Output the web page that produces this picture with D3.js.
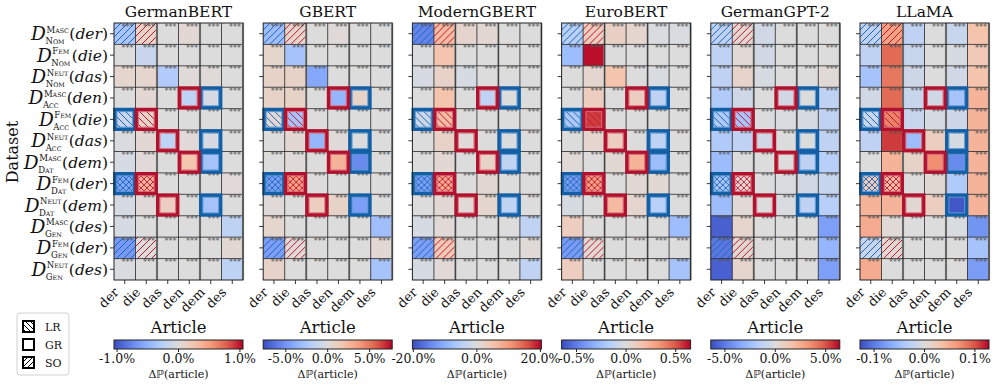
<!DOCTYPE html>
<html><head><meta charset="utf-8">
<script src="https://cdn.jsdelivr.net/npm/d3@7"></script>
<style>
body{margin:0;background:#fff}
svg{display:block}
text{font-family:"DejaVu Serif","Liberation Serif",serif;fill:#111}
</style>
</head><body>
<svg id="chart" width="996" height="386"></svg>
<script>
// ---------------- data ----------------
const models = ["GermanBERT","GBERT","ModernGBERT","EuroBERT","GermanGPT-2","LLaMA"];
const articles = ["der","die","das","den","dem","des"];
const rowGender = ["Masc","Fem","Neut","Masc","Fem","Neut","Masc","Fem","Neut","Masc","Fem","Neut"];
const rowCase = ["Nom","Nom","Nom","Acc","Acc","Acc","Dat","Dat","Dat","Gen","Gen","Gen"];
const rowArticle = ["der","die","das","den","die","das","dem","der","dem","des","der","des"];
const vmax = [1.05, 7.7, 20.3, 0.65, 6.4, 0.128];
const cbTicks = [[-1,0,1],[-5,0,5],[-20,0,20],[-0.5,0,0.5],[-5,0,5],[-0.1,0,0.1]];

// ΔP(article) in percent, rows = datasets, cols = articles
const valsGermanBERT = [
 [-0.35,0.10,0.00,0.05,0.00,0.00],
 [0.00,-0.15,0.00,0.00,0.00,0.00],
 [0.08,0.08,-0.30,0.02,0.02,0.00],
 [0.00,0.05,0.00,-0.22,-0.05,0.00],
 [-0.15,0.10,0.00,0.00,0.00,0.00],
 [-0.03,0.05,-0.22,0.03,-0.05,0.00],
 [-0.05,0.03,0.00,0.25,-0.38,0.00],
 [-0.60,0.38,0.00,0.00,0.00,0.03],
 [-0.05,0.03,0.15,0.00,-0.38,0.00],
 [-0.05,0.00,0.00,0.00,0.00,-0.22],
 [-0.65,0.00,0.00,0.00,0.00,0.05],
 [-0.03,0.00,0.00,0.00,0.00,-0.22]];
const valsGBERT = [
 [-3.0,0.6,0,0.2,0,0],
 [0.6,-2.7,0,0,0,0],
 [0.8,0.8,-4.2,0,0,0],
 [0.8,0.8,0,-3.5,0.8,0],
 [0.4,-2.7,0,0,0,0],
 [0,0.4,-3.5,0.2,0,0],
 [0,0.2,0,2.7,-5.4,0],
 [-4.6,3.5,0,0,0,0],
 [0.2,0,1.2,0.8,-4.6,0],
 [0.6,0,0,0,0,-3.0],
 [-4.6,0.2,0,0,0,0.4],
 [0.8,0,0,0,0,-2.7]];
const valsModernGBERT = [
 [-15,6,1.6,1,0,0],
 [-0.6,5,0,0,0,0],
 [-1,2.4,-1,0,0,0],
 [0,5,0,-4,0,0],
 [-2,6,0,0,0,0],
 [0,2.4,0.4,0,-0.6,0],
 [0,1,0,2.4,-4,0],
 [-12,8,0,1,0,0],
 [0,1,0.6,1.4,-4,0],
 [-1,0.6,0,0,0,-4],
 [-12,4,0,0,0,0.4],
 [-1,0.6,0,0,0,-4]];
const valsEuroBERT = [
 [-0.16,0.10,0.08,0.05,-0.02,-0.02],
 [-0.26,0.63,0,0,0,0],
 [0,0.05,0.16,0,-0.02,0],
 [0,0.10,0,0.10,-0.13,0],
 [-0.20,0.55,0,0,0,0],
 [0,0.05,0.10,0,-0.13,0],
 [0.02,0,0.03,0.23,-0.26,0],
 [-0.40,0.30,0,0.03,0.03,0],
 [-0.03,0,0.20,0.05,-0.16,0],
 [0.10,0,0,0,0,-0.26],
 [-0.40,0.03,0,0,0,0],
 [0.10,0,0,0,0,-0.23]];
const valsGermanGPT2 = [
 [-1.3,0.3,-0.5,0,0,0],
 [-1.3,0.2,-0.5,0,0,0],
 [-1.3,0.6,-0.3,0,0,0.2],
 [-1.9,-0.6,0,-0.5,0,-1.3],
 [-1.9,-2.2,0,-0.2,-0.3,-1.3],
 [-1.9,-1.3,-0.5,0,0,-1.3],
 [-2.6,0,0,0,-1.3,-1.6],
 [-2.2,0.3,0,-0.2,-0.5,-1.0],
 [-2.6,0.2,0,-0.2,-1.3,-1.6],
 [-5.8,0.5,0,0,0,-3.8],
 [-5.1,0.3,0,0,0,-2.9],
 [-5.8,0.5,0,0,0,-3.8]];
const valsLLaMA = [
 [-0.026,0.058,-0.026,0,-0.019,0.032],
 [-0.026,0.090,-0.019,0,-0.006,0.026],
 [-0.045,0.083,-0.013,0,-0.010,0.032],
 [-0.010,0.090,-0.019,-0.010,-0.045,0.045],
 [-0.019,0.077,-0.019,-0.006,-0.013,0.045],
 [-0.026,0.109,-0.051,0.019,-0.006,0.045],
 [0,0.045,0.013,0.070,-0.090,0.045],
 [0.026,0.038,0,0.006,-0.038,0.045],
 [0.045,0.045,0.006,0.019,-0.122,0.045],
 [0.051,0.004,0,0,-0.004,-0.083],
 [-0.019,0.006,0,0,0,-0.045],
 [0.051,0,0,0,0,-0.077]];
const panelValues = [valsGermanBERT, valsGBERT, valsModernGBERT, valsEuroBERT, valsGermanGPT2, valsLLaMA];

// highlight definitions (row index, column index)
const soRows = [0, 7, 10];           // "//" hatch
const lrRows = [4, 7];               // "\\" hatch + border
const hatchCols = {blue: 0, red: 1};
const grPairs = [[3,3,4],[5,2,4],[6,3,4],[8,2,4]]; // row, red col, blue col

// -------------- colormap (coolwarm) --------------
const coolwarm = d3.piecewise(d3.interpolateRgb, ["#3a4cc0","#6282ea","#8db0fe","#b8d0f9","#dddcdc","#f5c4ad","#f49a7b","#de604d","#b40426"]);

const svg = d3.select("#chart");
svg.append("rect").attr("width",996).attr("height",386).attr("fill","#fff");
const defs = svg.append("defs");

const BLUE_DARK = "#135fa6", BLUE_LIGHT = "#5b97d0", BLUE_HATCH = "#1a66b8";
const RED_DARK = "#b0112c", RED_LIGHT = "#d9677a", RED_HATCH = "#c4142e";

function makePattern(id, color, kind, size){
  const p = defs.append("pattern").attr("id",id).attr("patternUnits","userSpaceOnUse")
    .attr("width",size).attr("height",size);
  const s = size;
  let d = "";
  if(kind==="/"||kind==="x") d += `M0,${s} L${s},0 M-1,1 L1,-1 M${s-1},${s+1} L${s+1},${s-1} `;
  if(kind==="\\"||kind==="x") d += `M0,0 L${s},${s} M-1,${s-1} L1,${s+1} M${s-1},-1 L${s+1},1`;
  p.append("path").attr("d",d).attr("stroke",color).attr("stroke-width",kind==="x"?0.9:1).attr("fill","none");
}
makePattern("so-blue",BLUE_HATCH,"/",7);
makePattern("so-red",RED_HATCH,"/",7);
makePattern("lr-blue",BLUE_HATCH,"\\",7);
makePattern("lr-red",RED_HATCH,"\\",7);
makePattern("x-blue",BLUE_HATCH,"x",6);
makePattern("x-red",RED_HATCH,"x",6);
makePattern("so-black","#000","/",5);
makePattern("lr-black","#000","\\",5);

// gradient for colorbars
const grad = defs.append("linearGradient").attr("id","cw").attr("x1","0%").attr("x2","100%");
d3.range(0,1.0001,0.05).forEach(t=>grad.append("stop").attr("offset",(t*100)+"%").attr("stop-color",coolwarm(t)));

const W = 129, H = 257, TOP = 23;
const panelX = d3.scaleLinear().domain([0,5]).range([114, 860]);

models.forEach((model, pi)=>{
  const X0 = panelX(pi);
  const g = svg.append("g").attr("transform",`translate(${X0},${TOP})`);
  const xs = d3.scaleBand().domain(articles).range([0,W]);
  const ys = d3.scaleBand().domain(d3.range(12)).range([0,H]);
  const color = d3.scaleSequential(coolwarm).domain([-vmax[pi], vmax[pi]]);
  const cells = [];
  panelValues[pi].forEach((row,r)=>row.forEach((v,c)=>cells.push({r,c,v})));

  g.selectAll("rect.cell").data(cells).join("rect").attr("class","cell")
    .attr("x",d=>xs(articles[d.c])).attr("y",d=>ys(d.r))
    .attr("width",xs.bandwidth()).attr("height",ys.bandwidth())
    .attr("fill",d=>color(d.v));

  // hatches
  const hatchCells = [];
  d3.range(12).forEach(r=>{
    const so = soRows.includes(r), lr = lrRows.includes(r);
    if(!so && !lr) return;
    const kind = so && lr ? "x" : (so ? "so" : "lr");
    hatchCells.push({r, c:hatchCols.blue, id:kind+"-blue"});
    hatchCells.push({r, c:hatchCols.red, id:kind+"-red"});
  });
  g.selectAll("rect.hatch").data(hatchCells).join("rect").attr("class","hatch")
    .attr("x",d=>xs(articles[d.c])).attr("y",d=>ys(d.r))
    .attr("width",xs.bandwidth()).attr("height",ys.bandwidth())
    .attr("fill",d=>`url(#${d.id})`);

  // grid lines
  d3.range(1,6).forEach(i=>{
    const xx = xs(articles[i]);
    if(i%2===0){
      g.append("line").attr("x1",xx).attr("x2",xx).attr("y1",0).attr("y2",H).attr("stroke","#999").attr("stroke-width",2.2);
    }
    g.append("line").attr("x1",xx).attr("x2",xx).attr("y1",0).attr("y2",H).attr("stroke","#222").attr("stroke-width",0.8);
  });
  d3.range(1,12).forEach(i=>{
    const yy = ys(i);
    g.append("line").attr("x1",0).attr("x2",W).attr("y1",yy).attr("y2",yy).attr("stroke","#222").attr("stroke-width",0.8);
  });
  g.append("line").attr("x1",W).attr("x2",W).attr("y1",0).attr("y2",H).attr("stroke","#999").attr("stroke-width",2.2);

  // stars
  g.selectAll("text.star").data(cells).join("text").attr("class","star")
    .attr("x",d=>xs(articles[d.c])+xs.bandwidth()-2).attr("y",d=>ys(d.r)+6.5)
    .attr("text-anchor","end").attr("font-size",8).style("fill","#555")
    .style("font-family","DejaVu Sans").text("***");

  // borders
  const borders = [];
  lrRows.forEach(r=>{ borders.push({r,c:hatchCols.blue,col:"blue"}); });
  grPairs.forEach(([r,rc,bc])=>borders.push({r,c:bc,col:"blue"}));
  lrRows.forEach(r=>{ borders.push({r,c:hatchCols.red,col:"red"}); });
  grPairs.forEach(([r,rc,bc])=>borders.push({r,c:rc,col:"red"}));
  const bw = xs.bandwidth(), bh = ys.bandwidth();
  borders.forEach(b=>{
    const x = xs(articles[b.c]), y = ys(b.r);
    g.append("rect").attr("x",x+0.9).attr("y",y+0.9).attr("width",bw-1.8).attr("height",bh-1.8)
      .attr("fill","none").attr("stroke",b.col==="blue"?BLUE_DARK:RED_DARK).attr("stroke-width",3.6);
    g.append("rect").attr("x",x+2.9).attr("y",y+2.9).attr("width",bw-5.8).attr("height",bh-5.8)
      .attr("fill","none").attr("stroke",b.col==="blue"?BLUE_LIGHT:RED_LIGHT).attr("stroke-width",1.2).attr("opacity",0.85);
  });

  // frame
  g.append("rect").attr("width",W).attr("height",H).attr("fill","none").attr("stroke","#222").attr("stroke-width",1);

  // ticks
  d3.range(12).forEach(r=>{
    const yy = ys(r)+bh/2;
    g.append("line").attr("x1",-4).attr("x2",0).attr("y1",yy).attr("y2",yy).attr("stroke","#222").attr("stroke-width",0.9);
  });
  articles.forEach(a=>{
    const xx = xs(a)+bw/2;
    g.append("line").attr("x1",xx).attr("x2",xx).attr("y1",H).attr("y2",H+4).attr("stroke","#222").attr("stroke-width",0.9);
    g.append("text").attr("transform",`translate(${xx-5},${H+13}) rotate(-45)`)
      .attr("text-anchor","end").attr("font-size",13).text(a);
  });

  // title
  svg.append("text").attr("x",X0+W/2).attr("y",17).attr("text-anchor","middle").attr("font-size",15.5).text(model);

  // colorbar
  const cy = 340, ch = 9;
  const cb = svg.append("g").attr("transform",`translate(${X0},${cy})`);
  svg.append("text").attr("x",X0+W/2).attr("y",333).attr("text-anchor","middle").attr("font-size",16.5).text("Article");
  cb.append("rect").attr("width",W).attr("height",ch).attr("fill","url(#cw)").attr("stroke","#222").attr("stroke-width",1);
  const cx = d3.scaleLinear().domain([-vmax[pi],vmax[pi]]).range([0,W]);
  cbTicks[pi].forEach(t=>{
    cb.append("line").attr("x1",cx(t)).attr("x2",cx(t)).attr("y1",ch).attr("y2",ch+3).attr("stroke","#222");
    cb.append("text").attr("x",cx(t)).attr("y",ch+14).attr("text-anchor","middle").attr("font-size",12.5)
      .text((t<0?"-":"")+Math.abs(t).toFixed(1)+"%");
  });
  const lab = svg.append("text").attr("x",X0+W/2).attr("y",378).attr("text-anchor","middle").attr("font-size",11);
  lab.append("tspan").text("Δ");
  lab.append("tspan").style("font-family","DejaVu Sans").attr("font-size",11).text("ℙ");
  lab.append("tspan").text("(article)");
});

// y labels
const ysMain = d3.scaleBand().domain(d3.range(12)).range([TOP,TOP+H]);
d3.range(12).forEach(r=>{
  const cyy = ysMain(r)+ysMain.bandwidth()/2;
  const g = svg.append("g").attr("transform",`translate(108,${cyy})`);
  const t1 = g.append("text").attr("x",0).attr("y",5.5).attr("text-anchor","end").attr("font-size",15.5);
  t1.append("tspan").text("(");
  t1.append("tspan").attr("font-style","italic").text(rowArticle[r]);
  t1.append("tspan").text(")");
  const w1 = t1.node().getComputedTextLength();
  const sup = g.append("text").attr("y",-1).attr("font-size",8.5);
  sup.append("tspan").text(rowGender[r][0]);
  sup.append("tspan").attr("font-size",6.3).text(rowGender[r].slice(1).toUpperCase());
  const sub = g.append("text").attr("y",10.5).attr("font-size",8.5);
  sub.append("tspan").text(rowCase[r][0]);
  sub.append("tspan").attr("font-size",6.3).text(rowCase[r].slice(1).toUpperCase());
  const ws = Math.max(sup.node().getComputedTextLength(), sub.node().getComputedTextLength());
  const sx = -w1 - ws - 1;
  sup.attr("x",sx+0.5); sub.attr("x",sx-0.5);
  g.append("text").attr("x",sx).attr("y",6.5).attr("text-anchor","end").attr("font-size",18.5)
    .attr("font-style","italic").text("D");
});

svg.append("text").attr("transform","translate(18,152) rotate(-90)").attr("text-anchor","middle")
  .attr("font-size",16).text("Dataset");

// legend
const legendItems = ["LR","GR","SO"];
const legendFill = ["url(#lr-black)","#fff","url(#so-black)"];
const lg = svg.append("g").attr("transform","translate(17,313)");
lg.append("rect").attr("width",52).attr("height",62).attr("rx",3).attr("fill","#fff").attr("stroke","#d0d0d0").attr("stroke-width",1);
legendItems.forEach((name,i)=>{
  const yy = 8 + i*18;
  lg.append("rect").attr("x",6).attr("y",yy).attr("width",11).attr("height",11)
    .attr("fill",legendFill[i]).attr("stroke","#000").attr("stroke-width",2);
  lg.append("text").attr("x",28).attr("y",yy+10).attr("font-size",11).text(name);
});
</script>
</body></html>
